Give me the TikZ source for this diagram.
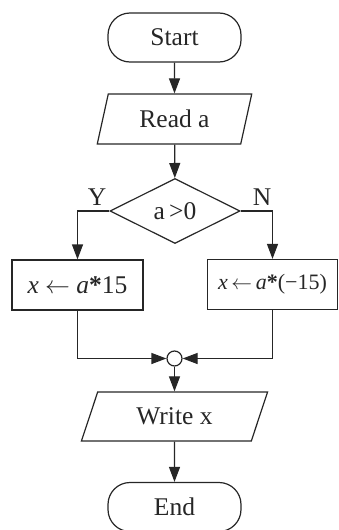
\documentclass[tikz,border=0pt]{standalone}
\usepackage{fontspec}
\setmainfont{Liberation Serif}
\usetikzlibrary{shapes.geometric,shapes.misc,arrows.meta}
\begin{document}
\begin{tikzpicture}[x=1pt,y=-1pt,
  line width=1.2pt,
  every node/.style={draw=black!85, line width=1.2pt, inner sep=0pt, font=\fontsize{25.5}{28}\selectfont, text=black!85},
  term/.style={rectangle, rounded corners=22pt, minimum width=133pt, minimum height=49pt},
  io/.style={trapezium, trapezium stretches=true, minimum height=50pt},
  proc/.style={rectangle, minimum width=131pt, minimum height=50pt},
  dec/.style={diamond, minimum width=130pt, minimum height=65pt, aspect=2},
  junc/.style={circle, minimum size=15pt},
  lbl/.style={draw=none},
  arr/.style={draw=black!85, -{Triangle[length=15pt,width=11pt]}},
  ln/.style={draw=black!85}
]
\useasboundingbox (0,0) rectangle (339,530);
\node[term] (start) at (174.5,37.5) {Start};
\node[io, trapezium left angle=72, trapezium right angle=108, minimum width=155pt] (read) at (174.5,119) {Read a};
\node[dec] (cond) at (175,211) {a\,>0};
\node[proc] (lbox) at (77.5,285) {\textit{x} $\leftarrow$ \textit{a}\textbf{*}15};
\node[proc, minimum width=130pt, font=\fontsize{22}{24}\selectfont] (rbox) at (272.5,284.5) {\textit{x}\,$\leftarrow$\,\textit{a}\textbf{*}(\textminus15)};
\node[junc] (merge) at (174.5,358.5) {};
\node[io, trapezium left angle=65, trapezium right angle=115, minimum width=187pt, minimum height=49pt] (write) at (174.5,416.5) {Write x};
\node[term] (stop) at (174.5,507) {End};
\node[lbl] (ylab) at (97,197) {Y};
\node[lbl] (nlab) at (262,197) {N};
\draw[arr] (start) -- (read);
\draw[arr] (read) -- (cond);
\draw[arr] (cond.west) -| (lbox.north);
\draw[arr] (cond.east) -| (rbox.north);
\draw[arr] (lbox.south) |- (merge.west);
\draw[arr] (rbox.south) |- (merge.east);
\draw[arr] (merge) -- (write);
\draw[arr] (write) -- (stop);
\end{tikzpicture}
\end{document}
